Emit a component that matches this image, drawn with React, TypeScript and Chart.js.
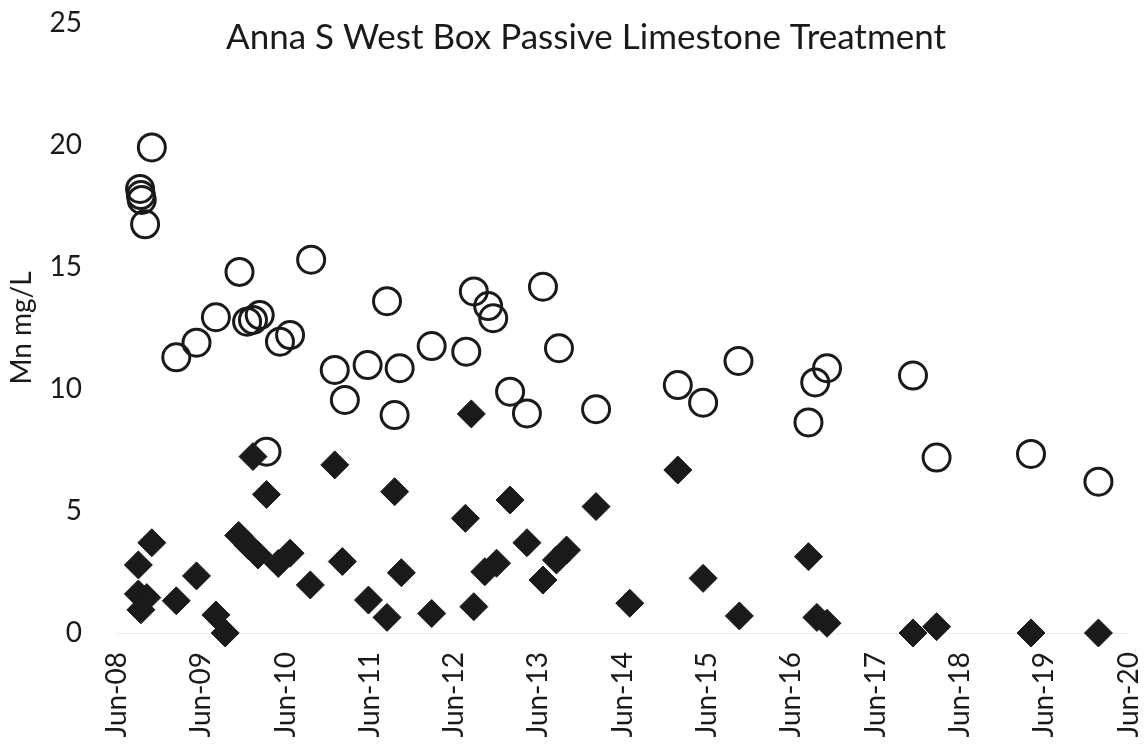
import { useEffect, useRef } from "react";
import { Chart, registerables } from "chart.js";

Chart.register(...registerables);

// Open circles (decimal year, Mn mg/L)
const circleDates = [
  2008.83, 2008.69, 2008.7, 2008.71, 2008.75, 2009.87, 2010.72, 2011.62, 2009.59, 2009.96,
  2010.03, 2010.11, 2010.35, 2010.47, 2009.36, 2009.12, 2011.0, 2011.39, 2011.77, 2012.15,
  2011.12, 2011.71, 2010.19, 2012.65, 2012.82, 2012.88, 2013.47, 2012.56, 2013.66, 2013.08,
  2013.28, 2014.1, 2015.07, 2015.37, 2015.79, 2016.84, 2016.7, 2016.62, 2017.86, 2018.14,
  2019.26, 2020.06,
];
const circleValues = [
  19.9, 18.2, 17.95, 17.75, 16.75, 14.8, 15.3, 13.6, 12.94, 12.76,
  12.83, 13.03, 11.94, 12.21, 11.9, 11.3, 10.78, 10.98, 10.85, 11.76,
  9.55, 8.93, 7.43, 14.0, 13.4, 12.9, 14.19, 11.53, 11.67, 9.89,
  9.0, 9.17, 10.16, 9.44, 11.15, 10.85, 10.27, 8.63, 10.55, 7.19,
  7.34, 6.2,
];

// Filled diamonds (decimal year, Mn mg/L)
const diamondDates = [
  2010.03, 2011.0, 2011.71, 2010.19, 2008.83, 2008.67, 2009.36, 2008.67, 2008.77, 2008.7,
  2009.12, 2009.59, 2009.7, 2009.86, 2009.97, 2010.09, 2010.33, 2010.47, 2011.09, 2010.71,
  2011.79, 2011.4, 2011.62, 2012.15, 2012.62, 2015.07, 2013.08, 2014.1, 2012.55, 2013.28,
  2012.78, 2012.92, 2013.63, 2013.75, 2013.47, 2015.37, 2012.65, 2014.5, 2015.8, 2016.62,
  2016.72, 2016.84, 2017.86, 2018.14, 2019.26, 2020.06,
];
const diamondValues = [
  7.23, 6.89, 5.79, 5.68, 3.7, 2.79, 2.34, 1.6, 1.45, 0.95,
  1.32, 0.74, 0.0, 4.0, 3.6, 3.2, 2.85, 3.27, 2.93, 1.97,
  2.47, 1.35, 0.64, 0.8, 8.98, 6.68, 5.45, 5.18, 4.7, 3.7,
  2.51, 2.86, 2.99, 3.4, 2.17, 2.24, 1.08, 1.22, 0.7, 3.13,
  0.64, 0.4, 0.0, 0.26, 0.0, 0.0,
];

const xTickYears = [2008, 2009, 2010, 2011, 2012, 2013, 2014, 2015, 2016, 2017, 2018, 2019, 2020];
const xTickLabels = [
  "Jun-08", "Jun-09", "Jun-10", "Jun-11", "Jun-12", "Jun-13", "Jun-14",
  "Jun-15", "Jun-16", "Jun-17", "Jun-18", "Jun-19", "Jun-20",
];
const yTickValues = [0, 5, 10, 15, 20, 25];

const TITLE = "Anna S West Box Passive Limestone Treatment";
const INK = "#1a1a1a";
const FONT = "Lato";

const titlePlugin = {
  id: "insideTitle",
  afterDraw(chart: any) {
    const ctx = chart.ctx;
    ctx.save();
    ctx.font = `35px ${FONT}`;
    ctx.fillStyle = INK;
    ctx.textAlign = "center";
    ctx.textBaseline = "alphabetic";
    ctx.fillText(TITLE, 586, 49);
    ctx.restore();
  },
};

const zeroPadding = (scale: any) => {
  scale.paddingTop = 0;
  scale.paddingBottom = 0;
  scale.paddingLeft = 0;
  scale.paddingRight = 0;
};

export default function App() {
  const ref = useRef<HTMLCanvasElement | null>(null);

  useEffect(() => {
    if (!ref.current) return;
    const circles = circleDates.map((d, i) => ({ x: d, y: circleValues[i] }));
    const diamonds = diamondDates.map((d, i) => ({ x: d, y: diamondValues[i] }));
    const chart = new Chart(ref.current, {
      type: "scatter",
      data: {
        datasets: [
          {
            label: "Effluent",
            data: diamonds,
            pointStyle: "rectRot",
            pointRadius: 14,
            pointHoverRadius: 14,
            borderWidth: 1,
            backgroundColor: INK,
            borderColor: INK,
            clip: false,
          } as any,
          {
            label: "Influent",
            data: circles,
            pointStyle: "circle",
            pointRadius: 13.5,
            pointHoverRadius: 13.5,
            borderWidth: 3,
            backgroundColor: "rgba(0,0,0,0)",
            borderColor: INK,
            clip: false,
          } as any,
        ],
      },
      options: {
        animation: false,
        responsive: true,
        maintainAspectRatio: false,
        events: [],
        layout: { padding: { left: 0, right: 16, top: 23, bottom: 0 } },
        plugins: {
          legend: { display: false },
          tooltip: { enabled: false },
          title: { display: false },
        },
        scales: {
          x: {
            type: "linear",
            min: 2008 + 5 / 12,
            max: 2020 + 5 / 12,
            afterBuildTicks: (axis: any) => {
              axis.ticks = xTickYears.map((y) => ({ value: y + 5 / 12 }));
            },
            afterFit: (scale: any) => {
              scale.height = 114;
              zeroPadding(scale);
            },
            ticks: {
              autoSkip: false,
              minRotation: 90,
              maxRotation: 90,
              padding: 19,
              color: INK,
              font: { family: FONT, size: 28 },
              callback: (_v: any, i: number) => xTickLabels[i],
            },
            grid: { display: false, drawTicks: false },
            border: { display: true, color: "#ededed", width: 1 },
          },
          y: {
            min: 0,
            max: 25,
            afterBuildTicks: (axis: any) => {
              axis.ticks = yTickValues.map((v) => ({ value: v }));
            },
            afterFit: (scale: any) => {
              scale.width = 117;
              zeroPadding(scale);
            },
            ticks: {
              padding: 35,
              color: INK,
              font: { family: FONT, size: 28 },
            },
            title: {
              display: true,
              text: "Mn mg/L",
              color: INK,
              font: { family: FONT, size: 28 },
              padding: { top: 5, bottom: 0 },
            },
            grid: { display: false, drawTicks: false },
            border: { display: false },
          },
        },
      },
      plugins: [titlePlugin],
    } as any);
    return () => chart.destroy();
  }, []);

  return (
    <div style={{ position: "fixed", left: 0, top: 0, width: 1145, height: 747, background: "#fff" }}>
      <canvas ref={ref} />
    </div>
  );
}
